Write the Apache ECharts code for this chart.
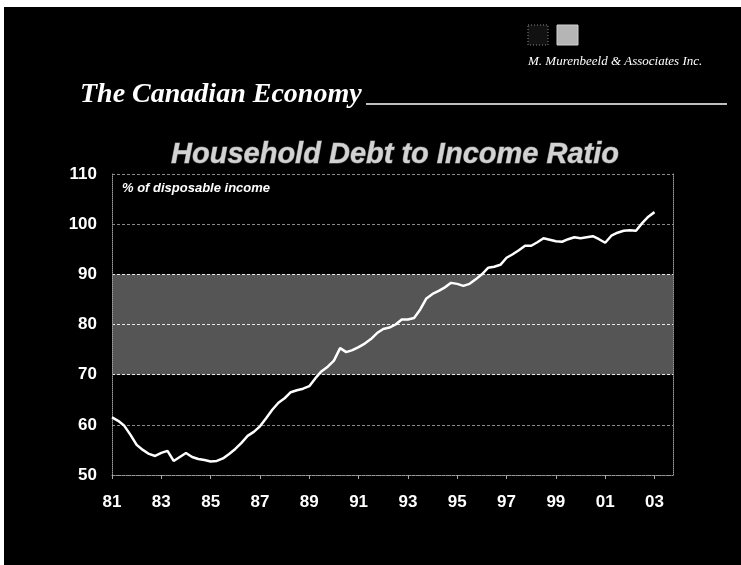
<!DOCTYPE html>
<html>
<head>
<meta charset="utf-8">
<script src="https://cdn.jsdelivr.net/npm/echarts@6/dist/echarts.min.js"></script>
<style>
  html, body { margin: 0; padding: 0; background: #000; overflow: hidden; }
  #chart { width: 741px; height: 565px; }
</style>
</head>
<body>
<div id="chart"></div>
<script>
// Household debt as % of disposable income, quarterly 1981 Q1 – 2003 Q1
const quarters = [
  1981.00, 1981.25, 1981.50, 1981.75, 1982.00, 1982.25, 1982.50, 1982.75,
  1983.00, 1983.25, 1983.50, 1983.75, 1984.00, 1984.25, 1984.50, 1984.75,
  1985.00, 1985.25, 1985.50, 1985.75, 1986.00, 1986.25, 1986.50, 1986.75,
  1987.00, 1987.25, 1987.50, 1987.75, 1988.00, 1988.25, 1988.50, 1988.75,
  1989.00, 1989.25, 1989.50, 1989.75, 1990.00, 1990.25, 1990.50, 1990.75,
  1991.00, 1991.25, 1991.50, 1991.75, 1992.00, 1992.25, 1992.50, 1992.75,
  1993.00, 1993.25, 1993.50, 1993.75, 1994.00, 1994.25, 1994.50, 1994.75,
  1995.00, 1995.25, 1995.50, 1995.75, 1996.00, 1996.25, 1996.50, 1996.75,
  1997.00, 1997.25, 1997.50, 1997.75, 1998.00, 1998.25, 1998.50, 1998.75,
  1999.00, 1999.25, 1999.50, 1999.75, 2000.00, 2000.25, 2000.50, 2000.75,
  2001.00, 2001.25, 2001.50, 2001.75, 2002.00, 2002.25, 2002.50, 2002.75,
  2003.00
];
const debtRatio = [
  61.5, 60.8, 59.8, 58.0, 56.0, 55.0, 54.2, 53.8,
  54.4, 54.8, 52.8, 53.6, 54.4, 53.6, 53.2, 53.0,
  52.7, 52.8, 53.3, 54.2, 55.2, 56.4, 57.8, 58.6,
  59.7, 61.3, 63.0, 64.4, 65.3, 66.5, 66.9, 67.2,
  67.7, 69.3, 70.7, 71.6, 72.8, 75.3, 74.5, 74.9,
  75.5, 76.2, 77.1, 78.3, 79.1, 79.4, 80.0, 81.0,
  81.0, 81.3, 83.0, 85.2, 86.1, 86.7, 87.4, 88.3,
  88.1, 87.7, 88.1, 89.0, 90.0, 91.3, 91.5, 91.9,
  93.3, 94.0, 94.8, 95.7, 95.7, 96.4, 97.2, 96.9,
  96.6, 96.5, 97.0, 97.4, 97.2, 97.4, 97.6, 97.0,
  96.3, 97.7, 98.3, 98.7, 98.8, 98.7, 100.2, 101.5,
  102.4
];
// Year labels shown on the horizontal axis
const yearTicks = [1981, 1983, 1985, 1987, 1989, 1991, 1993, 1995, 1997, 1999, 2001, 2003];
// Shaded zone on the vertical axis
const bandLow = 70;
const bandHigh = 90;

const yMin = 50, yMax = 110, yStep = 10;
const bandColors = [];
for (let v = yMin; v < yMax; v += yStep) {
  bandColors.push(v >= bandLow && v < bandHigh ? '#555555' : 'rgba(0,0,0,0)');
}
const lineColors = [];
for (let v = yMin; v <= yMax; v += yStep) {
  lineColors.push(v >= bandLow && v <= bandHigh ? '#e8e8e8' : '#8a8a8a');
}

const chart = echarts.init(document.getElementById('chart'), null, { renderer: 'canvas' });

chart.setOption({
  backgroundColor: '#000',
  animation: false,
  grid: { left: 112, right: 68, top: 174, bottom: 90, containLabel: false },
  xAxis: {
    type: 'value',
    min: 1981,
    max: 2003.75,
    axisLine: { show: true, lineStyle: { color: '#9a9a9a', type: 'dotted', width: 1 } },
    axisTick: { show: true, customValues: yearTicks, length: 4, lineStyle: { color: '#aaa' } },
    axisLabel: {
      customValues: yearTicks,
      color: '#fff',
      fontFamily: 'Liberation Sans, Arial, sans-serif',
      fontWeight: 'bold',
      fontSize: 17,
      margin: 19,
      formatter: v => String(Math.round(v) % 100).padStart(2, '0')
    },
    splitLine: { show: false }
  },
  yAxis: [{
    type: 'value',
    min: yMin,
    max: yMax,
    interval: yStep,
    axisLine: { show: true, lineStyle: { color: '#9a9a9a', type: 'dotted', width: 1 } },
    axisTick: { show: false },
    axisLabel: {
      color: '#fff',
      fontFamily: 'Liberation Sans, Arial, sans-serif',
      fontWeight: 'bold',
      fontSize: 17,
      margin: 15
    },
    splitLine: { show: true, lineStyle: { color: lineColors, type: [3, 2], width: 1 } },
    splitArea: { show: true, areaStyle: { color: bandColors } }
  }, {
    type: 'value',
    position: 'right',
    min: yMin,
    max: yMax,
    interval: yStep,
    axisLine: { show: true, lineStyle: { color: '#9a9a9a', type: 'dotted', width: 1 } },
    axisTick: { show: false },
    axisLabel: { show: false },
    splitLine: { show: false }
  }],
  series: [{
    type: 'line',
    data: quarters.map((q, i) => [q, debtRatio[i]]),
    showSymbol: false,
    smooth: false,
    lineStyle: { color: '#fff', width: 2.5 },
    z: 5
  }],
  graphic: [
    // white strips along the top and left edges of the slide
    { type: 'rect', shape: { x: 0, y: 0, width: 741, height: 7 }, style: { fill: '#fff' }, silent: true },
    { type: 'rect', shape: { x: 0, y: 0, width: 4, height: 565 }, style: { fill: '#fff' }, silent: true },
    // company logo squares
    { type: 'rect', shape: { x: 528, y: 25, width: 20, height: 20 },
      style: { fill: '#111', stroke: '#8a8a8a', lineWidth: 1, lineDash: [1, 2] }, silent: true },
    { type: 'rect', shape: { x: 557, y: 25, width: 21, height: 20 },
      style: { fill: '#b5b5b5', stroke: '#d0d0d0', lineWidth: 1 }, silent: true },
    { type: 'text', style: {
        text: 'M. Murenbeeld & Associates Inc.', x: 528, y: 62,
        font: 'italic 13px "Liberation Serif", "Times New Roman", serif',
        fill: '#fff', verticalAlign: 'middle' }, silent: true },
    // section heading with rule
    { type: 'text', style: {
        text: 'The Canadian Economy', x: 80, y: 95,
        font: 'italic bold 28px "Liberation Serif", "Times New Roman", serif',
        fill: '#fff', verticalAlign: 'middle' }, silent: true },
    { type: 'line', shape: { x1: 366, y1: 104, x2: 727, y2: 104 },
      style: { stroke: '#fff', lineWidth: 1.5 }, silent: true },
    // chart title
    { type: 'text', style: {
        text: 'Household Debt to Income Ratio', x: 395, y: 155,
        font: 'italic bold 29px "Liberation Sans", Arial, sans-serif',
        fill: '#d2d2d2', stroke: '#6e6e6e', lineWidth: 1,
        align: 'center', verticalAlign: 'middle' }, silent: true },
    // unit note inside the plot
    { type: 'text', style: {
        text: '% of disposable income', x: 122, y: 188,
        font: 'italic bold 13px "Liberation Sans", Arial, sans-serif',
        fill: '#fff', verticalAlign: 'middle' }, silent: true },
    // annotation
    { type: 'text', style: {
        text: 'The debt/income ratio', x: 498, y: 288,
        font: 'italic bold 13px "Liberation Sans", Arial, sans-serif',
        fill: '#fff', verticalAlign: 'middle' }, silent: true },
    { type: 'text', style: {
        text: 'has never been higher!', x: 497, y: 306,
        font: 'italic bold 13px "Liberation Sans", Arial, sans-serif',
        fill: '#fff', verticalAlign: 'middle' }, silent: true }
  ]
});
</script>
</body>
</html>
